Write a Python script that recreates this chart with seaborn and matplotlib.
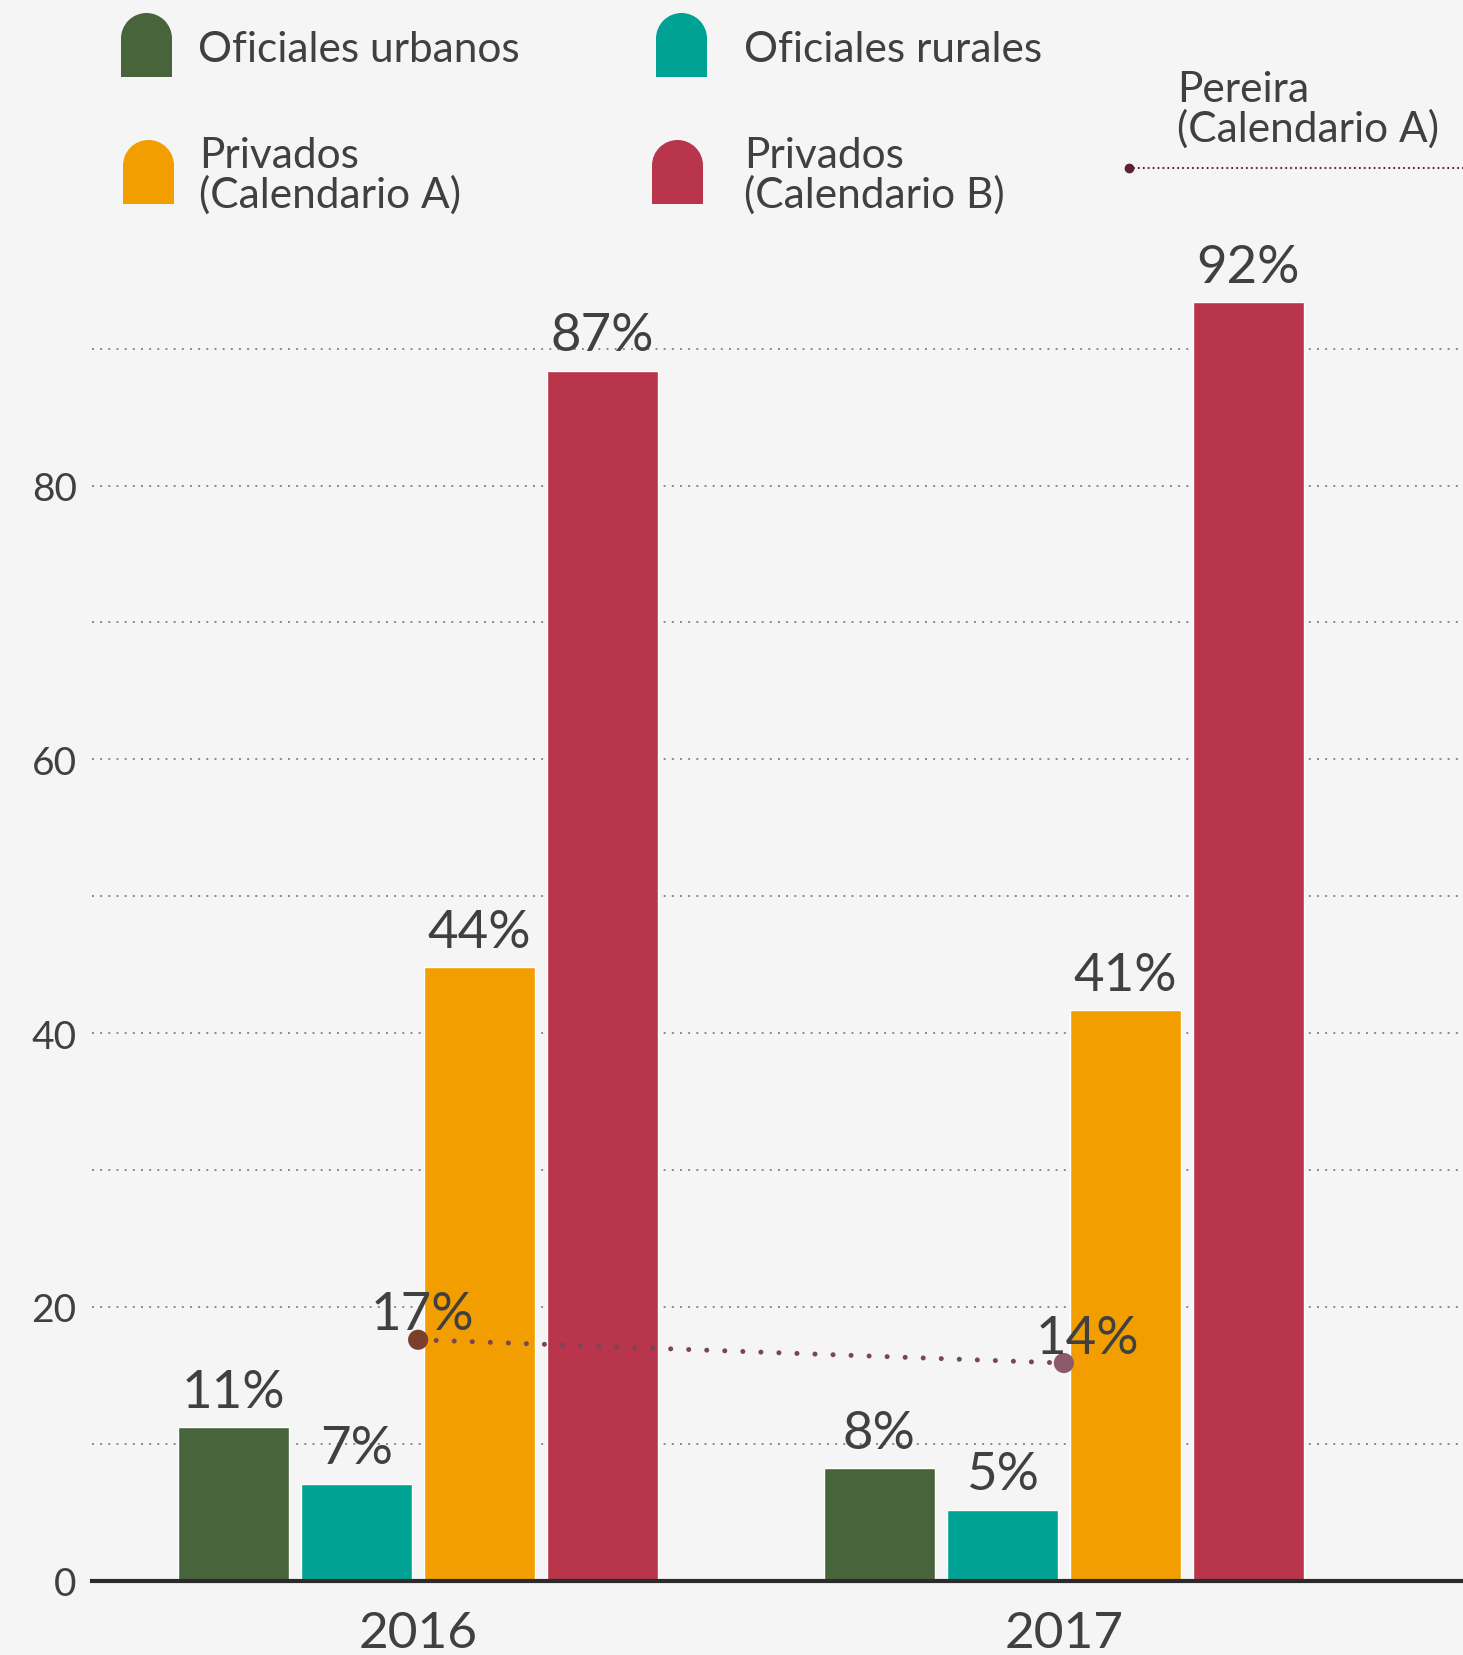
import matplotlib.pyplot as plt
import matplotlib.patches as mpatches
import seaborn as sns
import pandas as pd

# datos
anios = ["2016", "2017"]
categorias = ["Oficiales urbanos", "Oficiales rurales",
              "Privados\n(Calendario A)", "Privados\n(Calendario B)"]
colores = ["#48643a", "#00a294", "#f29e00", "#b8354b"]
oficiales_urbanos = [11.2, 8.2]
oficiales_rurales = [7.1, 5.2]
privados_a = [44.8, 41.7]
privados_b = [88.4, 93.4]
etiquetas = [["11%", "8%"], ["7%", "5%"], ["44%", "41%"], ["87%", "92%"]]
pereira = [17.6, 15.9]
etiquetas_pereira = ["17%", "14%"]
nombre_pereira = "Pereira\n(Calendario A)"
yticks = [0, 10, 20, 30, 40, 50, 60, 70, 80, 90]
ytick_labels = ["0", "", "20", "", "40", "", "60", "", "80", ""]

FONDO = "#f5f5f5"
TEXTO = "#404040"

sns.set_style("white")
plt.rcParams["font.family"] = ["Lato", "DejaVu Sans"]

valores = [oficiales_urbanos, oficiales_rurales, privados_a, privados_b]
filas = []
for cat, serie in zip(categorias, valores):
    for anio, v in zip(anios, serie):
        filas.append({"Año": anio, "Tipo": cat, "Valor": v})
df = pd.DataFrame(filas)

fig = plt.figure(figsize=(14.63, 16.56), dpi=100, facecolor=FONDO)
ax = fig.add_axes([92 / 1463, 74.3 / 1656, 1 - 92 / 1463, 1369 / 1656])
ax.set_facecolor(FONDO)

sns.barplot(data=df, x="Año", y="Valor", hue="Tipo", order=anios,
            hue_order=categorias, palette=colores, width=0.762, gap=0.095,
            saturation=1, legend=False, ax=ax, zorder=3)

for cont, etq in zip(ax.containers, etiquetas):
    ax.bar_label(cont, labels=etq, padding=8, fontsize=38, color=TEXTO)

# linea de Pereira
xs = list(range(len(anios)))
ax.plot(xs, pereira, color="#7a4656", lw=3.6, linestyle=(0, (0.01, 3.6)),
        dash_capstyle="round", zorder=4)
ax.scatter(xs, pereira, s=210, color=["#7b3f2c", "#8c5a6a"], zorder=5,
           linewidths=0)
desplaz = [4, 24]
for x, y, t, d in zip(xs, pereira, etiquetas_pereira, desplaz):
    ax.annotate(t, (x, y), xytext=(d * 0.72, 1), textcoords="offset points",
                ha="center", va="bottom", fontsize=38, color=TEXTO, zorder=6)

ax.set_xlim(-0.505, 1.618)
ax.set_ylim(0, 100)
ax.set_yticks(yticks)
ax.set_yticklabels(ytick_labels)
ax.yaxis.grid(True, color="#8a8a8a", lw=1.4, linestyle=(0, (1, 3.2)), zorder=0)
ax.set_axisbelow(True)
ax.tick_params(axis="y", length=0, pad=11, labelsize=28, labelcolor=TEXTO)
ax.tick_params(axis="x", length=0, pad=21, labelsize=37, labelcolor=TEXTO)
ax.set_xlabel("")
ax.set_ylabel("")
for lado in ["top", "right", "left"]:
    ax.spines[lado].set_visible(False)
ax.spines["bottom"].set_color("#2b2b2b")
ax.spines["bottom"].set_linewidth(3)
ax.spines["bottom"].set_zorder(7)

# leyenda dibujada a mano en pixeles
lax = fig.add_axes([0, 0, 1, 1], facecolor="none")
lax.set_xlim(0, 1463)
lax.set_ylim(1656, 0)
lax.axis("off")


def arco(x0, y_top, ancho, alto, color):
    r = ancho / 2
    lax.add_patch(mpatches.Wedge((x0 + r, y_top + r), r, 180, 360,
                                 color=color, lw=0))
    lax.add_patch(mpatches.Rectangle((x0, y_top + r - 0.5), ancho,
                                     alto - r + 0.5, color=color, lw=0))


pos_leyenda = [(121, 14, 198, 50), (656, 14, 744, 50),
               (123, 141, 199, 176), (652, 141, 744, 176)]
for (px, py, tx, ty), cat, col in zip(pos_leyenda, categorias, colores):
    arco(px, py, 51, 64, col)
    lax.text(tx, ty, cat, ha="left", va="center", fontsize=30.5, color=TEXTO,
             linespacing=1.02)

lax.text(1177, 110, nombre_pereira, ha="left", va="center", fontsize=30.5,
         color=TEXTO, linespacing=1.02)
lax.plot([1129, 1463], [169, 169], color="#5e2238", lw=1.6,
         linestyle=(0, (0.01, 2.2)), dash_capstyle="round")
lax.plot([1129], [169], "o", color="#5e2238", markersize=6)

fig.savefig("out.png", dpi=100, facecolor=FONDO)
